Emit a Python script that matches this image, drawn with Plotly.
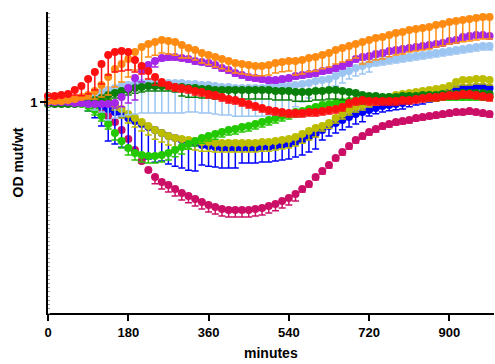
import plotly.graph_objects as go

minutes = [0, 15, 30, 45, 60, 75, 90, 105, 120, 135, 150, 165, 180, 195, 210, 225, 240, 255, 270, 285,
           300, 315, 330, 345, 360, 375, 390, 405, 420, 435, 450, 465, 480, 495, 510, 525, 540, 555, 570, 585,
           600, 615, 630, 645, 660, 675, 690, 705, 720, 735, 750, 765, 780, 795, 810, 825, 840, 855, 870, 885,
           900, 915, 930, 945, 960, 975, 990]

x_ticks = [0, 180, 360, 540, 720, 900]
y_ticks = [1]

magenta = [1.000,1.000,1.000,1.000,1.000,0.995,0.991,0.976,0.957,0.934,
           0.905,0.867,0.825,0.773,0.720,0.678,0.645,0.621,0.607,0.588,
           0.569,0.555,0.540,0.526,0.512,0.502,0.493,0.488,0.488,0.488,
           0.488,0.493,0.498,0.507,0.517,0.531,0.545,0.564,0.588,0.611,
           0.645,0.673,0.701,0.735,0.763,0.791,0.820,0.839,0.858,0.872,
           0.886,0.896,0.905,0.910,0.915,0.924,0.929,0.934,0.938,0.943,
           0.948,0.953,0.953,0.957,0.953,0.948,0.943]
magenta_err = [0.009,0.009,0.009,0.009,0.009,0.009,0.009,0.009,0.009,0.009,
               0.009,0.009,0.009,0.009,0.009,0.009,0.033,0.033,0.033,0.033,
               0.033,0.033,0.033,0.033,0.033,0.033,0.033,0.033,0.033,0.033,
               0.033,0.033,0.033,0.033,0.033,0.033,0.033,0.033,0.014,0.014,
               0.014,0.014,0.014,0.014,0.014,0.014,0.014,0.014,0.014,0.014,
               0.014,0.014,0.014,0.014,0.014,0.014,0.014,0.014,0.014,0.014,
               0.014,0.014,0.014,0.014,0.014,0.014,0.014]

blue = [1.000,1.000,1.000,1.000,1.000,1.000,0.995,0.991,0.981,0.967,
        0.953,0.938,0.924,0.910,0.896,0.882,0.867,0.853,0.839,0.829,
        0.820,0.810,0.806,0.796,0.791,0.787,0.782,0.782,0.782,0.782,
        0.782,0.782,0.787,0.787,0.791,0.796,0.801,0.810,0.820,0.834,
        0.848,0.867,0.886,0.900,0.915,0.929,0.943,0.953,0.962,0.972,
        0.981,0.986,0.991,0.995,1.005,1.014,1.019,1.028,1.038,1.047,
        1.057,1.062,1.066,1.066,1.071,1.071,1.066]
blue_err = [0.009,0.009,0.009,0.009,0.009,0.019,0.038,0.066,0.095,0.152,
            0.152,0.152,0.152,0.152,0.152,0.152,0.152,0.133,0.133,0.133,
            0.133,0.133,0.133,0.095,0.095,0.095,0.095,0.095,0.095,0.071,
            0.071,0.071,0.071,0.071,0.071,0.071,0.071,0.071,0.071,0.071,
            0.071,0.047,0.047,0.047,0.047,0.047,0.047,0.047,0.028,0.028,
            0.028,0.028,0.028,0.028,0.028,0.028,0.028,0.028,0.028,0.028,
            0.028,0.028,0.028,0.028,0.028,0.028,0.028]

olive = [1.005,1.005,1.009,1.009,1.014,1.019,1.024,1.024,1.019,1.005,
         0.986,0.967,0.943,0.924,0.905,0.886,0.867,0.853,0.839,0.829,
         0.825,0.820,0.815,0.810,0.810,0.806,0.806,0.806,0.806,0.806,
         0.806,0.806,0.810,0.810,0.815,0.820,0.825,0.834,0.848,0.863,
         0.877,0.886,0.900,0.924,0.943,0.962,0.976,0.986,1.000,1.009,
         1.019,1.024,1.033,1.038,1.043,1.047,1.052,1.057,1.062,1.066,
         1.076,1.095,1.104,1.104,1.109,1.109,1.104]
olive_err = [0.009,0.009,0.009,0.009,0.009,0.009,0.009,0.009,0.024,0.024,
             0.024,0.043,0.043,0.043,0.043,0.043,0.043,0.043,0.043,0.043,
             0.043,0.043,0.043,0.043,0.043,0.043,0.043,0.043,0.043,0.043,
             0.043,0.043,0.043,0.043,0.043,0.043,0.043,0.043,0.043,0.043,
             0.043,0.024,0.024,0.024,0.024,0.024,0.024,0.024,0.024,0.024,
             0.024,0.024,0.024,0.024,0.024,0.024,0.024,0.024,0.024,0.024,
             0.024,0.024,0.024,0.024,0.024,0.024,0.024]

lime = [1.000,1.000,1.000,1.000,1.000,0.991,0.981,0.962,0.934,0.896,
        0.853,0.815,0.782,0.758,0.749,0.744,0.744,0.749,0.758,0.773,
        0.787,0.801,0.815,0.829,0.839,0.848,0.858,0.867,0.872,0.882,
        0.886,0.896,0.905,0.915,0.924,0.934,0.943,0.953,0.957,0.967,
        0.976,0.986,0.991,0.995,1.000,1.005,1.009,1.009,1.014,1.014,
        1.014,1.014,1.014,1.014,1.014,1.019,1.019,1.019,1.019,1.024,
        1.024,1.024,1.024,1.024,1.024,1.024,1.024]
lime_err = [0.009,0.009,0.009,0.009,0.009,0.009,0.024,0.024,0.024,0.024,
            0.033,0.033,0.033,0.033,0.033,0.033,0.033,0.033,0.033,0.033,
            0.033,0.024,0.024,0.024,0.024,0.024,0.024,0.024,0.024,0.024,
            0.024,0.024,0.024,0.024,0.024,0.024,0.024,0.024,0.024,0.024,
            0.024,0.024,0.024,0.024,0.024,0.014,0.014,0.014,0.014,0.014,
            0.014,0.014,0.014,0.014,0.014,0.014,0.014,0.014,0.014,0.014,
            0.014,0.014,0.014,0.014,0.014,0.014,0.014]

lightblue = [1.005,1.005,1.005,1.005,1.009,1.014,1.024,1.033,1.047,1.057,
             1.066,1.076,1.081,1.085,1.090,1.090,1.090,1.090,1.090,1.090,
             1.090,1.085,1.085,1.081,1.081,1.076,1.071,1.071,1.066,1.066,
             1.066,1.066,1.066,1.071,1.071,1.076,1.076,1.081,1.085,1.090,
             1.100,1.104,1.109,1.123,1.137,1.147,1.161,1.171,1.180,1.190,
             1.194,1.199,1.204,1.209,1.213,1.218,1.223,1.227,1.232,1.237,
             1.242,1.246,1.251,1.256,1.261,1.265,1.265]
lightblue_err = [0.009,0.009,0.009,0.009,0.009,0.024,0.047,0.071,0.095,0.142,
                 0.142,0.142,0.142,0.142,0.142,0.142,0.142,0.142,0.142,0.142,
                 0.142,0.133,0.133,0.133,0.133,0.133,0.133,0.133,0.133,0.133,
                 0.133,0.133,0.133,0.133,0.133,0.133,0.118,0.104,0.085,0.071,
                 0.057,0.047,0.047,0.047,0.047,0.038,0.038,0.038,0.038,0.019,
                 0.019,0.019,0.019,0.019,0.019,0.019,0.019,0.019,0.019,0.019,
                 0.019,0.019,0.019,0.019,0.019,0.019,0.019]

darkgreen = [0.991,0.991,0.991,0.991,0.991,0.995,1.000,1.009,1.019,1.033,
             1.043,1.052,1.057,1.066,1.071,1.076,1.076,1.076,1.076,1.071,
             1.071,1.066,1.066,1.062,1.062,1.057,1.057,1.057,1.057,1.057,
             1.057,1.057,1.057,1.057,1.052,1.052,1.052,1.047,1.047,1.047,
             1.052,1.052,1.057,1.057,1.052,1.047,1.043,1.033,1.028,1.028,
             1.024,1.024,1.024,1.028,1.028,1.028,1.033,1.033,1.033,1.038,
             1.038,1.038,1.043,1.043,1.043,1.043,1.038]
darkgreen_err = [0.009,0.009,0.009,0.009,0.009,0.009,0.009,0.009,0.024,0.024,
                 0.024,0.024,0.024,0.024,0.024,0.024,0.024,0.024,0.024,0.024,
                 0.043,0.043,0.043,0.043,0.043,0.043,0.043,0.043,0.043,0.043,
                 0.043,0.043,0.043,0.043,0.043,0.043,0.043,0.043,0.043,0.043,
                 0.043,0.043,0.043,0.043,0.043,0.043,0.043,0.043,0.024,0.024,
                 0.024,0.024,0.024,0.024,0.024,0.024,0.024,0.024,0.024,0.024,
                 0.024,0.024,0.024,0.024,0.024,0.024,0.024]

purple = [1.000,1.000,1.000,1.000,0.995,0.995,0.991,0.991,0.991,0.991,
          0.995,1.024,1.066,1.114,1.152,1.175,1.194,1.209,1.213,1.213,
          1.209,1.204,1.194,1.190,1.185,1.175,1.161,1.152,1.137,1.128,
          1.118,1.114,1.109,1.104,1.104,1.109,1.114,1.123,1.128,1.133,
          1.137,1.147,1.152,1.161,1.171,1.185,1.204,1.213,1.218,1.227,
          1.232,1.242,1.246,1.251,1.256,1.261,1.265,1.270,1.275,1.280,
          1.289,1.294,1.308,1.313,1.318,1.318,1.313]
purple_err = [0.009,0.009,0.009,0.009,0.009,0.009,0.009,0.009,0.009,0.009,
              0.024,0.047,0.071,0.104,0.057,0.028,0.028,0.014,0.014,0.014,
              0.014,0.014,0.014,0.014,0.014,0.014,0.014,0.014,0.014,0.014,
              0.014,0.014,0.014,0.014,0.014,0.014,0.014,0.014,0.014,0.014,
              0.014,0.014,0.014,0.014,0.014,0.014,0.014,0.014,0.014,0.014,
              0.014,0.014,0.014,0.014,0.014,0.014,0.014,0.014,0.014,0.014,
              0.014,0.014,0.014,0.014,0.014,0.014,0.014]

orange = [1.005,1.005,1.005,1.009,1.014,1.024,1.033,1.052,1.081,1.118,
          1.156,1.180,1.204,1.237,1.261,1.275,1.284,1.294,1.289,1.284,
          1.270,1.256,1.246,1.232,1.223,1.213,1.204,1.194,1.185,1.180,
          1.175,1.171,1.171,1.175,1.185,1.190,1.194,1.194,1.199,1.209,
          1.213,1.223,1.232,1.246,1.256,1.265,1.275,1.284,1.294,1.303,
          1.308,1.318,1.327,1.332,1.341,1.346,1.351,1.355,1.365,1.370,
          1.379,1.384,1.389,1.393,1.398,1.403,1.403]
orange_err = [0.009,0.009,0.009,0.009,0.009,0.009,0.019,0.038,0.057,0.085,
              0.085,0.085,0.085,0.085,0.085,0.062,0.062,0.062,0.062,0.062,
              0.062,0.047,0.047,0.047,0.047,0.047,0.047,0.047,0.047,0.047,
              0.047,0.047,0.047,0.047,0.047,0.047,0.047,0.066,0.066,0.066,
              0.066,0.066,0.066,0.066,0.066,0.066,0.066,0.104,0.104,0.104,
              0.104,0.104,0.104,0.104,0.104,0.104,0.104,0.104,0.104,0.104,
              0.104,0.104,0.104,0.104,0.104,0.104,0.104]

red = [1.028,1.028,1.033,1.038,1.057,1.076,1.109,1.142,1.180,1.223,
       1.237,1.242,1.237,1.199,1.171,1.147,1.118,1.095,1.081,1.071,
       1.066,1.062,1.052,1.047,1.038,1.033,1.024,1.014,1.009,1.000,
       0.991,0.981,0.972,0.962,0.957,0.953,0.948,0.948,0.948,0.953,
       0.953,0.957,0.962,0.967,0.976,0.995,1.005,1.009,1.005,1.005,
       1.005,1.005,1.005,1.009,1.009,1.014,1.019,1.024,1.024,1.028,
       1.033,1.033,1.038,1.038,1.033,1.028,1.024]
red_err = [0.009,0.009,0.009,0.009,0.024,0.047,0.071,0.085,0.095,0.095,
           0.095,0.095,0.085,0.057,0.038,0.038,0.038,0.019,0.019,0.019,
           0.019,0.019,0.019,0.019,0.019,0.019,0.019,0.019,0.019,0.019,
           0.019,0.019,0.019,0.019,0.019,0.019,0.019,0.019,0.019,0.019,
           0.019,0.019,0.019,0.019,0.019,0.019,0.019,0.019,0.019,0.019,
           0.019,0.019,0.019,0.019,0.019,0.019,0.019,0.019,0.019,0.019,
           0.019,0.019,0.019,0.019,0.019,0.019,0.019]

series = [
    (magenta, magenta_err, "#CC0F66"),
    (blue, blue_err, "#0000FF"),
    (olive, olive_err, "#BDBD00"),
    (lime, lime_err, "#22C800"),
    (lightblue, lightblue_err, "#9CC5F2"),
    (darkgreen, darkgreen_err, "#0A800A"),
    (purple, purple_err, "#A526E6"),
    (orange, orange_err, "#FF8C12"),
    (red, red_err, "#FF1010"),
]

fig = go.Figure()
for vals, errs, col in series:
    fig.add_trace(go.Scatter(
        x=minutes, y=vals, mode="markers",
        marker=dict(color=col, size=8, line=dict(width=0)),
        error_y=dict(type="data", symmetric=False, array=[0] * len(vals),
                     arrayminus=errs, color=col, thickness=1.5, width=3.5),
        showlegend=False, cliponaxis=False,
    ))

font_family = "Liberation Sans, Arial, sans-serif"
fig.update_layout(
    width=495, height=364,
    margin=dict(l=48, r=1, t=12, b=51, autoexpand=False),
    paper_bgcolor="white", plot_bgcolor="white",
    font=dict(family=font_family, color="black"),
    xaxis=dict(
        range=[0, 1000], tickvals=x_ticks, ticktext=[f"<b>{v}</b>" for v in x_ticks],
        ticks="outside", ticklen=6, tickwidth=2, tickcolor="black",
        showline=True, linewidth=2, linecolor="black", showgrid=False, zeroline=False,
        tickfont=dict(size=13), automargin=False,
    ),
    yaxis=dict(
        range=[0, 1.4265], tickvals=y_ticks, ticktext=["<b>1</b>"],
        ticks="outside", ticklen=6, tickwidth=2, tickcolor="black",
        showline=True, linewidth=2, linecolor="black", showgrid=False, zeroline=False,
        tickfont=dict(size=13), automargin=False,
        minor=dict(ticks="inside", dtick=0.02, tick0=0, ticklen=2, tickwidth=1, tickcolor="#9a9a9a"),
    ),
    annotations=[
        dict(text="<b>minutes</b>", xref="paper", yref="paper", x=0.5, y=0,
             yshift=-40, xanchor="center", yanchor="middle", showarrow=False,
             font=dict(size=14)),
        dict(text="<b>OD mut/wt</b>", xref="paper", yref="paper", x=0, y=0.5,
             xshift=-31, xanchor="center", yanchor="middle", textangle=-90,
             showarrow=False, font=dict(size=14)),
    ],
)

fig.write_html("out.html", config={"displayModeBar": False},
               post_script="document.body.style.margin='0';document.body.style.overflow='hidden';")
